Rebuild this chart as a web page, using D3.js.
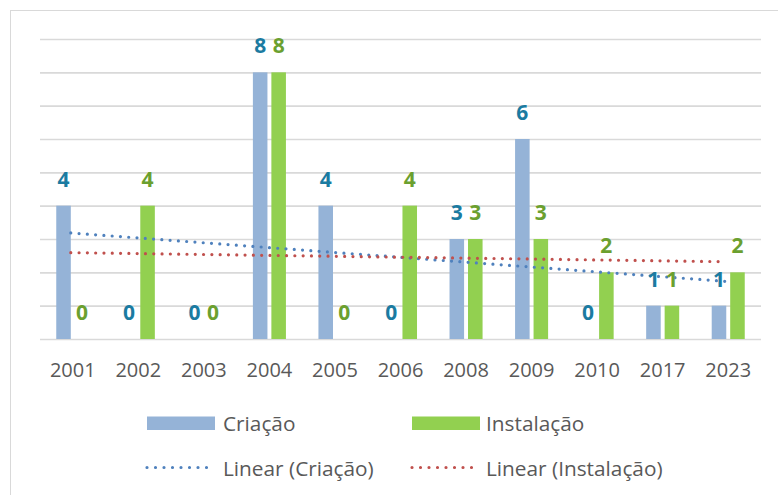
<!DOCTYPE html>
<html>
<head>
<meta charset="utf-8">
<script src="https://cdn.jsdelivr.net/npm/d3@7"></script>
<style>
  html, body { margin: 0; padding: 0; background: #fff; }
  svg { display: block; }
</style>
</head>
<body>
<svg id="chart" width="778" height="495"></svg>
<script>
const years = ["2001","2002","2003","2004","2005","2006","2008","2009","2010","2017","2023"];
const criacao = [4,0,0,8,4,0,3,6,0,1,1];
const instalacao = [0,4,0,8,0,4,3,3,2,1,2];
const yTicks = [0,1,2,3,4,5,6,7,8,9];
const seriesNames = ["Criação","Instalação"];
const trendNames = ["Linear (Criação)","Linear (Instalação)"];

const barColors = ["#95B3D7","#92D050"];
const labelColors = ["#1B7BA1","#6BA02F"];
const trendColors = ["#4F81BD","#C0504D"];
const font = "'Open Sans', 'DejaVu Sans', sans-serif";

const svg = d3.select("#chart");

// outer border
svg.append("rect").attr("x",10.5).attr("y",10.5).attr("width",800).attr("height",600)
  .attr("fill","none").attr("stroke","#D9D9D9").attr("stroke-width",1);

const x = d3.scaleBand().domain(years).range([40,761]);
const y = d3.scaleLinear().domain([0,9]).range([339,39]);

// gridlines
const grid = svg.append("g").attr("transform","translate(40,0)")
  .call(d3.axisLeft(y).tickValues(yTicks).tickSize(-721).tickFormat(""));
grid.select(".domain").remove();
grid.selectAll(".tick line").attr("stroke","#D9D9D9").attr("stroke-width",1.6);

const bw = x.bandwidth()*0.222;
const gap = x.bandwidth()*0.06;
const series = [criacao, instalacao];

series.forEach((vals, si) => {
  svg.append("g").selectAll("rect").data(vals).join("rect")
    .attr("x",(d,i)=> x(years[i]) + x.bandwidth()/2 + (si===0 ? -gap/2 - bw : gap/2))
    .attr("width",bw)
    .attr("y",d=>y(d))
    .attr("height",d=>y(0)-y(d))
    .attr("fill",barColors[si]);
});

// linear trend lines (least squares over index)
function fit(vals){
  const xs = vals.map((d,i)=>i+1);
  const mx = d3.mean(xs), my = d3.mean(vals);
  let sxy=0, sxx=0;
  xs.forEach((xi,i)=>{ sxy += (xi-mx)*(vals[i]-my); sxx += (xi-mx)*(xi-mx); });
  const b = sxy/sxx, a = my - b*mx;
  return xs.map(xi => a + b*xi);
}
series.forEach((vals, si) => {
  const pts = fit(vals);
  const tp = [pts[0], pts[pts.length-1]];
  svg.append("path")
    .attr("d", d3.line().x((d,i)=> i===0 ? x(years[0])+x.bandwidth()/2 - 2 : x(years[years.length-1])+x.bandwidth()/2 - 2).y(d=>y(d))(tp))
    .attr("fill","none").attr("stroke",trendColors[si]).attr("stroke-width",3.2)
    .attr("stroke-linecap","round").attr("stroke-dasharray","0 8.3");
});

// value labels
series.forEach((vals, si) => {
  svg.append("g").selectAll("text").data(vals).join("text")
    .attr("x",(d,i)=> x(years[i]) + x.bandwidth()/2 + (si===0 ? -gap/2 - bw/2 : gap/2 + bw/2))
    .attr("y",d=>y(d)-19)
    .attr("text-anchor","middle")
    .attr("font-family",font).attr("font-weight","bold").attr("font-size",21)
    .attr("fill",labelColors[si])
    .text(d=>d);
});

// x axis labels
svg.append("g").selectAll("text").data(years).join("text")
  .attr("x",d=>x(d)+x.bandwidth()/2)
  .attr("y",377)
  .attr("text-anchor","middle")
  .attr("font-family",font).attr("font-size",20).attr("fill","#595959")
  .text(d=>d);

// legend
const leg = svg.append("g");
const legX = [147, 412];
const textX = [223, 486];
seriesNames.forEach((nm, si) => {
  leg.append("rect").attr("x",legX[si]).attr("y",416.5).attr("width",68).attr("height",13.5).attr("fill",barColors[si]);
  leg.append("text").attr("x",textX[si]).attr("y",430.5).attr("font-family",font).attr("font-size",20.8)
    .attr("fill","#595959").text(nm);
});
trendNames.forEach((nm, si) => {
  leg.append("line").attr("x1",legX[si]).attr("x2",legX[si]+68).attr("y1",467.5).attr("y2",467.5)
    .attr("stroke",trendColors[si]).attr("stroke-width",3.2).attr("stroke-linecap","round").attr("stroke-dasharray","0 8.5");
  leg.append("text").attr("x",textX[si]).attr("y",475.5).attr("font-family",font).attr("font-size",20.8)
    .attr("fill","#595959").text(nm);
});
</script>
</body>
</html>
